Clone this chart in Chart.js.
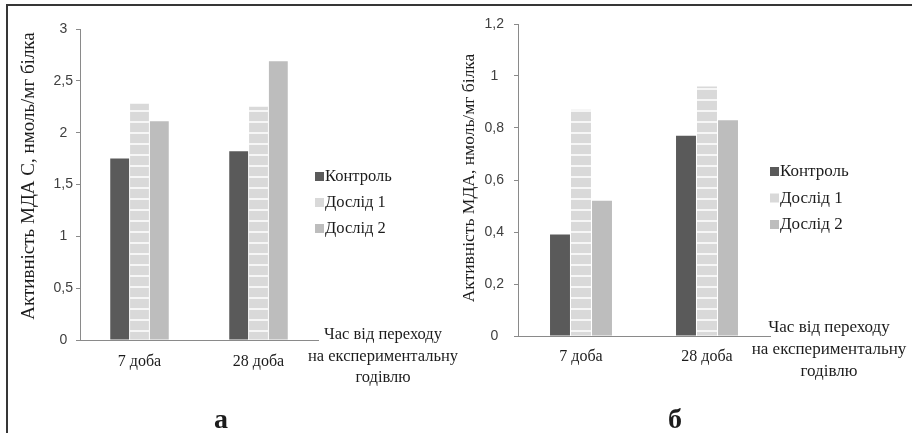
<!DOCTYPE html>
<html>
<head>
<meta charset="utf-8">
<script src="https://cdn.jsdelivr.net/npm/chart.js@4/dist/chart.umd.min.js"></script>
<style>
  html, body { margin: 0; padding: 0; background: #fff; }
  #wrap { position: relative; width: 912px; height: 433px; overflow: hidden; background: #fff; }
  #left { position: absolute; left: 0; top: 0; }
  #right { position: absolute; left: 455px; top: 0; }
  #frame { position: absolute; left: 6px; top: 4px; width: 906px; height: 429px;
           border-top: 2px solid #363636; border-left: 2px solid #363636; box-sizing: border-box;
           pointer-events: none; }
</style>
</head>
<body>
<div id="wrap">
  <canvas id="left" width="470" height="433"></canvas>
  <canvas id="right" width="457" height="433"></canvas>
  <div id="frame"></div>
</div>
<script>
// Categories and series
const categories = ['7 доба', '28 доба'];
const seriesNames = ['Контроль', 'Дослід 1', 'Дослід 2'];

// Panel а: МДА С, нмоль/мг білка
const mdaC_control = [1.75, 1.82];
const mdaC_trial1 = [2.28, 2.25];
const mdaC_trial2 = [2.11, 2.69];
const mdaC_ticks = [0, 0.5, 1, 1.5, 2, 2.5, 3];

// Panel б: МДА, нмоль/мг білка
const mda_control = [0.39, 0.77];
const mda_trial1 = [0.87, 0.96];
const mda_trial2 = [0.52, 0.83];
const mda_ticks = [0, 0.2, 0.4, 0.6, 0.8, 1, 1.2];

const xTitleLines = ['Час від переходу', 'на експериментальну', 'годівлю'];

const SERIF = '"Liberation Serif", "Times New Roman", serif';
const SANS = '"Liberation Sans", Arial, sans-serif';
const INK = '#1c1c1c';
const AXIS = '#8a8a8a';

// light grey fill crossed by thin white horizontal stripes
function stripePattern() {
  const c = document.createElement('canvas');
  c.width = 8; c.height = 11;
  const g = c.getContext('2d');
  g.fillStyle = '#d9d9d9';
  g.fillRect(0, 0, 8, 11);
  g.fillStyle = '#f6f6f6';
  g.fillRect(0, 0, 8, 2);
  return g.createPattern(c, 'repeat');
}

const swatches = ['#5a5a5a', '#d9d9d9', '#bdbdbd'];

// Axis titles, legend and panel letter drawn around the plot area
const annotate = {
  id: 'annotate',
  afterDraw(chart, args, o) {
    const ctx = chart.ctx;
    const a = chart.chartArea;
    ctx.save();
    ctx.fillStyle = INK;

    // vertical axis title
    ctx.save();
    ctx.font = o.yTitleSize + 'px ' + SERIF;
    ctx.translate(o.yTitleX, o.yTitleY);
    ctx.rotate(-Math.PI / 2);
    ctx.textAlign = 'center';
    ctx.textBaseline = 'middle';
    ctx.fillText(o.yTitle, 0, 0);
    ctx.restore();

    // horizontal axis title, three centred lines
    ctx.font = o.textSize + 'px ' + SERIF;
    ctx.textAlign = 'center';
    ctx.textBaseline = 'alphabetic';
    xTitleLines.forEach((t, i) => {
      ctx.fillText(t, o.xTitleX, o.xTitleY + i * o.xTitleGap);
    });

    // legend
    ctx.textAlign = 'left';
    chart.data.datasets.forEach((ds, i) => {
      const y = o.legendY + i * o.legendGap;
      ctx.fillStyle = swatches[i];
      ctx.fillRect(a.right + o.legendDx, y - 9, 9, 9);
      ctx.fillStyle = INK;
      ctx.fillText(ds.label, a.right + o.legendDx + 10, y);
    });

    // panel letter
    ctx.font = 'bold 28px ' + SERIF;
    ctx.textAlign = 'center';
    ctx.fillText(o.letter, o.letterX, o.letterY);
    ctx.restore();
  }
};

function makeChart(id, values, ticks, layout, text) {
  const pattern = stripePattern();
  const fills = [swatches[0], pattern, swatches[2]];
  return new Chart(document.getElementById(id), {
    type: 'bar',
    data: {
      labels: categories,
      datasets: values.map((v, i) => ({
        label: seriesNames[i],
        data: v,
        backgroundColor: fills[i],
        borderWidth: 0,
        categoryPercentage: 0.5,
        barPercentage: 0.95
      }))
    },
    options: {
      responsive: false,
      animation: false,
      devicePixelRatio: 1,
      events: [],
      layout: { padding: layout.padding },
      plugins: {
        legend: { display: false },
        tooltip: { enabled: false },
        annotate: text
      },
      scales: {
        x: {
          grid: { display: false, drawTicks: false },
          border: { display: true, color: AXIS, width: 1 },
          ticks: { font: { family: SERIF, size: 16 }, color: INK, padding: layout.xPad, maxRotation: 0 },
          afterFit: s => { s.height = 40; }
        },
        y: {
          min: ticks[0],
          max: ticks[ticks.length - 1],
          afterBuildTicks: s => { s.ticks = ticks.map(v => ({ value: v })); },
          grid: { drawOnChartArea: false, drawTicks: true, tickLength: 4, color: AXIS },
          border: { display: true, color: AXIS, width: 1 },
          ticks: {
            font: { family: SANS, size: 14 },
            color: '#404040',
            padding: layout.yPad,
            crossAlign: 'center',
            callback: v => String(v).replace('.', ',')
          },
          afterFit: s => { s.width = layout.yWidth; }
        }
      }
    },
    plugins: [annotate]
  });
}

makeChart('left',
  [mdaC_control, mdaC_trial1, mdaC_trial2], mdaC_ticks,
  { padding: { left: 0, top: 29, right: 152, bottom: 53 }, yWidth: 80, yPad: 3, xPad: 12 },
  { yTitle: 'Активність МДА С, нмоль/мг білка', yTitleX: 29, yTitleY: 176, yTitleSize: 19,
    textSize: 16.5,
    xTitleX: 383, xTitleY: 339, xTitleGap: 21.5,
    legendDx: -3, legendY: 181, legendGap: 26,
    letter: 'а', letterX: 221, letterY: 428 });

makeChart('right',
  [mda_control, mda_trial1, mda_trial2], mda_ticks,
  { padding: { left: 0, top: 24, right: 142, bottom: 57 }, yWidth: 63, yPad: 10, xPad: 11 },
  { yTitle: 'Активність МДА, нмоль/мг білка', yTitleX: 14, yTitleY: 178, yTitleSize: 17.5,
    textSize: 17,
    xTitleX: 374, xTitleY: 332, xTitleGap: 22,
    legendDx: 0, legendY: 176, legendGap: 26.5,
    letter: 'б', letterX: 220, letterY: 428 });
</script>
</body>
</html>
